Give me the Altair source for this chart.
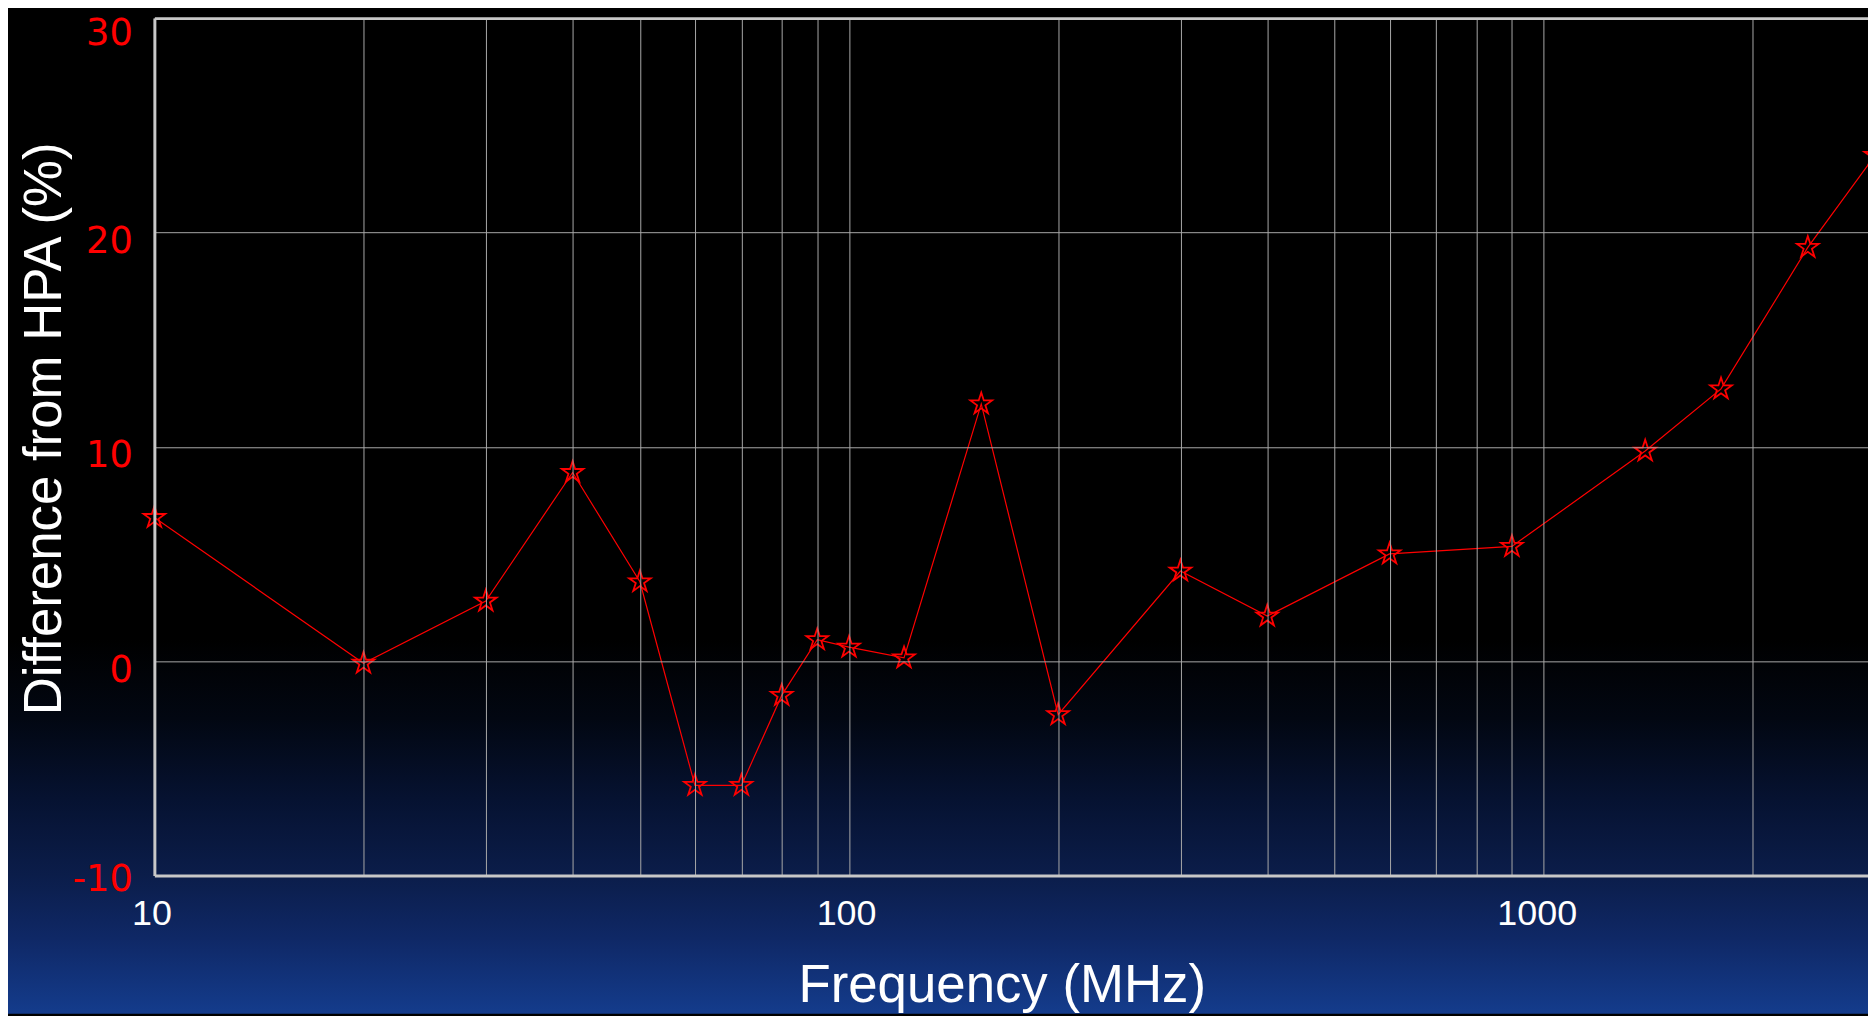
import altair as alt
import pandas as pd

# ---- data ----
freq_mhz = [10, 20, 30, 40, 50, 60, 70, 80, 90, 100, 120, 155, 200, 300, 400,
            600, 900, 1400, 1800, 2400, 3000]
diff_pct = [6.7, -0.1, 2.8, 8.8, 3.7, -5.8, -5.8, -1.6, 1.0, 0.65, 0.15, 12.0,
            -2.5, 4.2, 2.1, 5.0, 5.35, 9.8, 12.7, 19.3, 23.6]

x_grid_values = [10, 20, 30, 40, 50, 60, 70, 80, 90,
                 100, 200, 300, 400, 500, 600, 700, 800, 900,
                 1000, 2000]
x_label_values = [10, 100, 1000]
y_tick_values = [-10, 0, 10, 20, 30]
x_domain = [10, 2930]
y_domain = [-10, 30]

df = pd.DataFrame({"freq": freq_mhz, "diff": diff_pct})

# ---- layout ----
W, H = 1721, 861
PAD = {"left": 147, "top": 8, "right": 0, "bottom": 139}

FRAME = "#c8c8c8"
GRID = "#a8a8a8"
RED = "#ff0000"

# five-pointed star symbol in the unit box
STAR = ("M0,-1L0.2245,-0.309L0.951,-0.309L0.363,0.118L0.588,0.809L0,0.382"
        "L-0.588,0.809L-0.363,0.118L-0.951,-0.309L-0.2245,-0.309Z")

gradient = alt.LinearGradient(
    gradient="linear", x1=0, y1=0, x2=0, y2=1,
    stops=[
        alt.GradientStop(offset=0.0, color="#000000"),
        alt.GradientStop(offset=0.627, color="#000000"),
        alt.GradientStop(offset=0.706, color="#020712"),
        alt.GradientStop(offset=0.786, color="#061231"),
        alt.GradientStop(offset=0.862, color="#0b1d4a"),
        alt.GradientStop(offset=0.925, color="#0f2866"),
        alt.GradientStop(offset=1.0, color="#143c8c"),
    ],
)

label_test = " || ".join(f"datum.value == {v}" for v in x_label_values)

x_axis_bottom = alt.Axis(
    values=x_grid_values, format="d",
    labelExpr=f"({label_test}) ? ('' + datum.value) : ''",
    labelOverlap=False, labelFlush=False, labelColor="white",
    labelFont="Liberation Sans", labelFontSize=36, labelPadding=21,
    labelOffset={"condition": {"test": "datum.value == 1000", "value": -7},
                 "value": -3},
    ticks=False, domain=True, domainColor=FRAME, domainWidth=3,
    grid=True, gridColor=GRID, gridWidth=1,
    title="Frequency (MHz)", titleColor="white", titleFont="Liberation Sans",
    titleFontSize=53, titleFontWeight="normal", titleX=851, titleY=127,
    titleAlign="center", titleBaseline="alphabetic", zindex=1,
)

x_axis_top = alt.Axis(
    orient="top", labels=False, ticks=False, grid=False, domain=True,
    domainColor=FRAME, domainWidth=3, title=None, zindex=1,
)

y_axis = alt.Axis(
    values=y_tick_values, format="d",
    labelExpr="'' + datum.value",
    labelColor=RED, labelFont="DejaVu Sans", labelFontSize=37, labelPadding=22,
    labelOffset={"condition": [
        {"test": "datum.value == -10", "value": 4},
        {"test": "datum.value == 30", "value": 15},
    ], "value": 9},
    ticks=False, domain=True, domainColor=FRAME, domainWidth=3,
    grid=True, gridColor=GRID, gridWidth=1,
    title="Difference from HPA (%)", titleColor="white", titleFont="Liberation Sans",
    titleFontSize=53, titleFontWeight="normal", titleX=-94, titleY=412,
    titleAlign="center", titleBaseline="alphabetic", zindex=1,
)

x_scale = alt.Scale(type="log", domain=x_domain)
y_scale = alt.Scale(domain=y_domain, nice=False, zero=False)

bg = alt.Chart(pd.DataFrame({"k": [0]})).mark_rect(fill=gradient).encode(
    x=alt.value(-PAD["left"]), x2=alt.value(W + PAD["right"]),
    y=alt.value(-PAD["top"]), y2=alt.value(H + PAD["bottom"]),
)

line = alt.Chart(df).mark_line(color=RED, strokeWidth=1.2, clip=False).encode(
    x=alt.X("freq:Q", scale=x_scale, axis=x_axis_bottom),
    y=alt.Y("diff:Q", scale=y_scale, axis=y_axis),
)

pts = alt.Chart(df).mark_point(
    shape=STAR, filled=False, color=RED, size=520, strokeWidth=1.8,
    opacity=1, clip=False,
).encode(
    x=alt.X("freq:Q", scale=x_scale, axis=None),
    y=alt.Y("diff:Q", scale=y_scale, axis=y_axis),
)

top = alt.Chart(df).mark_point(opacity=0).encode(
    x=alt.X("freq:Q", scale=x_scale, axis=x_axis_top),
    y=alt.Y("diff:Q", scale=y_scale, axis=y_axis),
)

chart = alt.layer(bg, line, pts, top).resolve_axis(x="independent").properties(
    width=W, height=H,
    autosize=alt.AutoSizeParams(type="none"),
    padding=PAD,
    background="#000000",
).configure_view(stroke=None)

chart.save("out.html", embed_options={"renderer": "svg", "actions": False})
